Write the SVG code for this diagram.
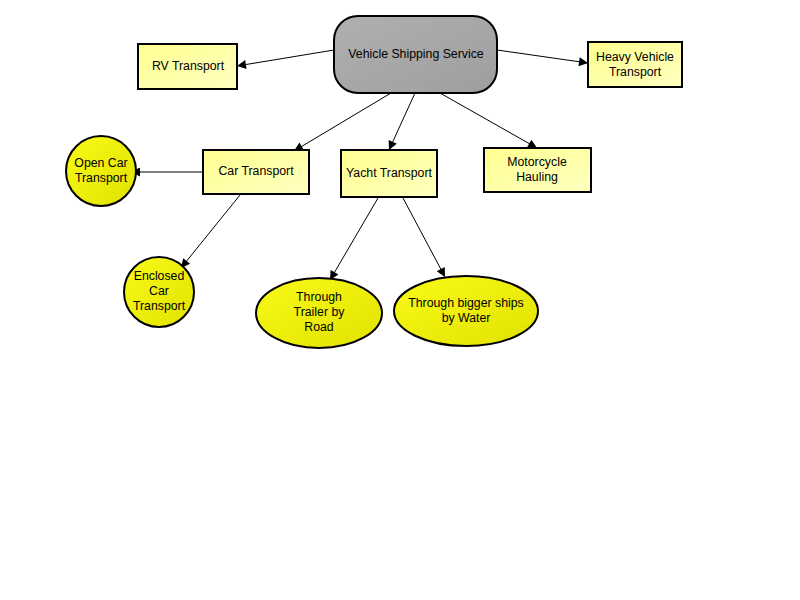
<svg xmlns="http://www.w3.org/2000/svg" width="800" height="600" viewBox="0 0 800 600">
<defs>
<linearGradient id="gGray" x1="0" y1="0" x2="1" y2="1">
<stop offset="0" stop-color="#b0b0b0"/><stop offset="1" stop-color="#9e9e9e"/>
</linearGradient>
<linearGradient id="gBox" x1="0" y1="0" x2="1" y2="1">
<stop offset="0" stop-color="#ffff90"/><stop offset="1" stop-color="#ffffc0"/>
</linearGradient>
<linearGradient id="gBall" x1="0" y1="0" x2="1" y2="1">
<stop offset="0" stop-color="#fafa18"/><stop offset="1" stop-color="#e2e200"/>
</linearGradient>
<marker id="arr" viewBox="0 0 10 10" refX="10" refY="5" markerWidth="13" markerHeight="9" markerUnits="userSpaceOnUse" orient="auto">
<path d="M0,0 L10,5 L0,10 z" fill="#000"/>
</marker>
<style>
.box{fill:url(#gBox);stroke:#000;stroke-width:2}
.ball{fill:url(#gBall);stroke:#000;stroke-width:2}
.hub{fill:url(#gGray);stroke:#000;stroke-width:2}
text{font-family:"Liberation Sans",Arial,sans-serif;font-size:12.3px;fill:#000;text-anchor:middle}
.edge{stroke:#000;stroke-width:1;fill:none;marker-end:url(#arr)}
</style>
</defs>
<rect width="800" height="600" fill="#fff"/>
<g id="connectors">
<line class="edge" x1="334" y1="50" x2="237" y2="66"/>
<line class="edge" x1="497" y1="50" x2="588" y2="63"/>
<line class="edge" x1="391" y1="93" x2="294" y2="151"/>
<line class="edge" x1="415" y1="93" x2="389" y2="150"/>
<line class="edge" x1="440" y1="93" x2="537" y2="148"/>
<line class="edge" x1="203" y1="172" x2="131" y2="172"/>
<line class="edge" x1="240" y1="195" x2="181" y2="268"/>
<line class="edge" x1="378" y1="198" x2="330" y2="280"/>
<line class="edge" x1="403" y1="198" x2="445" y2="277"/>
</g>
<g id="vehicle-shipping-service">
<rect class="hub" x="334" y="16" width="163" height="77" rx="24" ry="24"/>
<text x="416" y="58">Vehicle Shipping Service</text>
</g>
<g id="rv-transport">
<rect class="box" x="138" y="44" width="99" height="45"/>
<text x="188" y="70">RV Transport</text>
</g>
<g id="heavy-vehicle-transport">
<rect class="box" x="588" y="42" width="94" height="45"/>
<text x="635" y="61">Heavy Vehicle</text>
<text x="635" y="76">Transport</text>
</g>
<g id="car-transport">
<rect class="box" x="203" y="150" width="106" height="44"/>
<text x="256" y="175">Car Transport</text>
</g>
<g id="yacht-transport">
<rect class="box" x="341" y="150" width="96" height="47"/>
<text x="389" y="177">Yacht Transport</text>
</g>
<g id="motorcycle-hauling">
<rect class="box" x="484" y="148" width="107" height="44"/>
<text x="537" y="166">Motorcycle</text>
<text x="537" y="181">Hauling</text>
</g>
<g id="open-car-transport">
<circle class="ball" cx="101" cy="171" r="35"/>
<text x="101" y="167">Open Car</text>
<text x="101" y="182">Transport</text>
</g>
<g id="enclosed-car-transport">
<circle class="ball" cx="159" cy="292" r="35"/>
<text x="159" y="280">Enclosed</text>
<text x="159" y="295">Car</text>
<text x="159" y="310">Transport</text>
</g>
<g id="through-trailer-by-road">
<ellipse class="ball" cx="319" cy="313" rx="63" ry="35"/>
<text x="319" y="301">Through</text>
<text x="319" y="316">Trailer by</text>
<text x="319" y="331">Road</text>
</g>
<g id="through-bigger-ships-by-water">
<ellipse class="ball" cx="466" cy="311" rx="72" ry="35"/>
<text x="466" y="307">Through bigger ships</text>
<text x="466" y="322">by Water</text>
</g>
</svg>
